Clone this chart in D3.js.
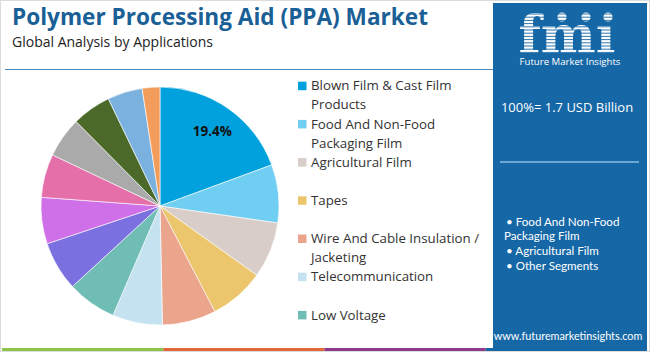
<!DOCTYPE html>
<html><head><meta charset="utf-8">
<script src="https://cdn.jsdelivr.net/npm/d3@7"></script>
<style>body{margin:0;background:#fff}svg{display:block}</style>
</head><body><svg id="c" width="650" height="352"></svg>
<script>
const categories = ["Blown Film & Cast Film Products","Food And Non-Food Packaging Film","Agricultural Film","Tapes","Wire And Cable Insulation / Jacketing","Telecommunication","Low Voltage","Medium Voltage","High Voltage","Pipes & Tubes","Fibers & Raffia","Blow Molding","Injection Molding","Others"];
const values = [19.4,7.9,7.6,7.5,7.3,6.8,6.7,6.7,6.3,5.9,5.5,5.3,4.75,2.4];
const colors = ["#00a1dd","#6fcef1","#d8cdc9","#ecc66d","#eba58d","#c5e2f1","#6fbdb4","#7b70e0","#cf70e8","#e570a9","#aaaaaa","#4b6a2a","#7ab1de","#f29d5c"];
const title = "Polymer Processing Aid (PPA) Market";
const subtitle = "Global Analysis by Applications";
const totalLabel = "100%= 1.7 USD Billion";
const keySegments = ["• Food And Non-Food","Packaging Film","• Agricultural Film","• Other Segments"];
const website = "www.futuremarketinsights.com";
const stripeColors = ["#8cc34b","#e0683a","#8c3b8c","#1567a6"];

const svg = d3.select("#c");
const W = 650, H = 352;
svg.append("rect").attr("x",0.5).attr("y",0.5).attr("width",W-1).attr("height",H-1).attr("fill","#fff").attr("stroke","#dcdcdc");

// bottom stripes
const sx = d3.scaleBand().domain(d3.range(stripeColors.length)).range([2,647]);
svg.selectAll("rect.stripe").data(stripeColors).join("rect").attr("class","stripe")
  .attr("x",(d,i)=>sx(i)).attr("y",348).attr("width",sx.bandwidth()).attr("height",3).attr("fill",d=>d);

// title
svg.append("text").attr("x",12).attr("y",24.8).attr("font-family","Open Sans").attr("font-weight",700)
  .attr("font-size",22.6).attr("fill","#1a5f96").text(title);
svg.append("text").attr("x",12).attr("y",47).attr("font-family","Open Sans")
  .attr("font-size",14).attr("fill","#222").text(subtitle);
svg.append("line").attr("x1",5).attr("x2",493).attr("y1",69.5).attr("y2",69.5).attr("stroke","#4a88bd").attr("stroke-width",1.2);

// pie
const cx = 160, cy = 206, R = 119;
const pie = d3.pie().sort(null).value(d=>d);
const arcs = pie(values);
const arc = d3.arc().innerRadius(0).outerRadius(R);
const g = svg.append("g").attr("transform",`translate(${cx},${cy})`);
g.selectAll("path").data(arcs).join("path").attr("d",arc).attr("fill",(d,i)=>colors[i])
  .attr("stroke","#fff").attr("stroke-width",0.6);
const labelArc = d3.arc().innerRadius(R*0.77).outerRadius(R*0.77);
const c0 = labelArc.centroid(arcs[0]);
g.append("text").attr("x",c0[0]).attr("y",c0[1]).attr("text-anchor","middle").attr("dy","0.35em")
  .attr("font-family","Open Sans").attr("font-weight",700).attr("font-size",13.5).attr("fill","#111")
  .text(d3.format(".1f")(values[0])+"%");

// legend
const lg = svg.append("g");
const lineH = 19.1, maxW = 178;
let y = 85.7;
categories.forEach((name,i)=>{
  if (y > H - 20) return;
  lg.append("rect").attr("x",298).attr("y",y-4).attr("width",8.5).attr("height",8.5).attr("fill",colors[i]);
  const t = lg.append("text").attr("x",311).attr("y",y).attr("font-family","Open Sans")
    .attr("font-size",13.3).attr("fill","#333");
  const words = name.split(" ");
  let line = [], ts = t.append("tspan").attr("x",311).attr("dy","0.35em");
  words.forEach(w=>{
    line.push(w); ts.text(line.join(" "));
    if (ts.node().getComputedTextLength() > maxW && line.length>1){
      line.pop(); ts.text(line.join(" ")); line=[w];
      ts = t.append("tspan").attr("x",311).attr("dy",lineH).text(w);
    }
  });
  y += lineH*2;
});

// right panel
const px = 493, pw = 154;
svg.append("rect").attr("x",px).attr("y",3).attr("width",pw).attr("height",348).attr("fill","#1567a6");
const pcx = px + pw/2;
// logo (striped letters through a mask)
const defs = svg.append("defs");
const mask = defs.append("mask").attr("id","logoMask").attr("maskUnits","userSpaceOnUse")
  .attr("x",px).attr("y",3).attr("width",pw).attr("height",60);
mask.append("text").attr("x",pcx-3).attr("y",53).attr("text-anchor","middle").attr("font-family","DejaVu Serif")
  .attr("font-weight",700).attr("font-size",52).attr("textLength",97).attr("lengthAdjust","spacingAndGlyphs")
  .attr("fill","#fff").text("fm\u0131");
[[562,17],[586,17],[608,17]].forEach(p=>mask.append("circle").attr("cx",p[0]).attr("cy",p[1]).attr("r",4.6).attr("fill","#fff"));
mask.selectAll("line.st").data(d3.range(14,56,3.2)).join("line").attr("class","st")
  .attr("x1",505).attr("x2",630).attr("y1",d=>d).attr("y2",d=>d).attr("stroke","#000").attr("stroke-width",0.9);
svg.append("rect").attr("x",px).attr("y",3).attr("width",pw).attr("height",56).attr("fill","#fff").attr("mask","url(#logoMask)");
svg.append("text").attr("x",pcx).attr("y",65).attr("text-anchor","middle").attr("font-family","Open Sans")
  .attr("font-size",9.6).attr("fill","#fff").text("Future Market Insights");

svg.append("text").attr("x",pcx-3).attr("y",112).attr("text-anchor","middle").attr("font-family","Open Sans")
  .attr("font-size",13).attr("fill","#fff").text(totalLabel);
svg.append("line").attr("x1",500).attr("x2",639).attr("y1",162).attr("y2",162).attr("stroke","#8dbde3").attr("stroke-width",1.5);

const bl = svg.append("text").attr("font-family","Lato").attr("font-size",11.6).attr("fill","#fff");
const bulletY = [226,240,255,270];
bl.selectAll("tspan").data(keySegments).join("tspan").attr("x",(d,i)=>i===1?504:506).attr("y",(d,i)=>bulletY[i]).text(d=>d);

svg.append("text").attr("x",pcx-2).attr("y",340).attr("text-anchor","middle").attr("font-family","Lato")
  .attr("font-size",10.8).attr("fill","#fff").text(website);
</script></body></html>
